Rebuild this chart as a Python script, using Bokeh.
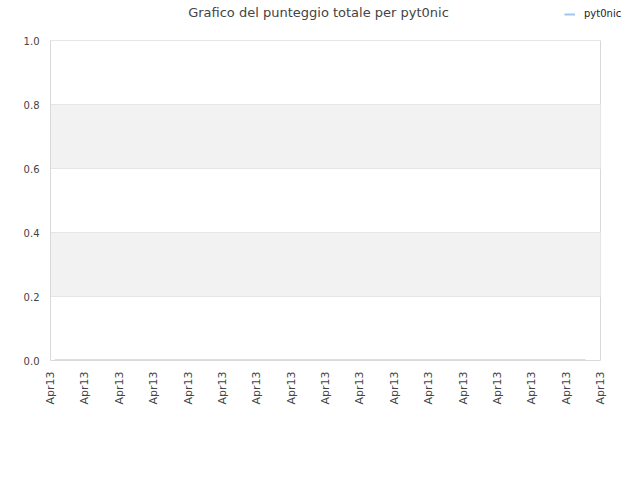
from bokeh.plotting import figure
from bokeh.models import FixedTicker, Legend, LegendItem, Range1d, Label
from bokeh.embed import file_html
from bokeh.resources import INLINE

# data
x_ticks = list(range(17))
tick_labels = ["Apr13"] * 17
y_ticks = [0, 0.2, 0.4, 0.6, 0.8, 1.0]
y_labels = ["0.0", "0.2", "0.4", "0.6", "0.8", "1.0"]
series_name = "pyt0nic"
series_x = [0.12, 2.0, 4.0, 6.0, 8.0, 10.0, 12.0, 14.0, 15.56]
series_y = [0, 0, 0, 0, 0, 0, 0, 0, 0]
title_text = "Grafico del punteggio totale per pyt0nic"

GREY = "#d9d9d9"
x_lo, x_hi = x_ticks[0], x_ticks[-1]
y_lo, y_hi = y_ticks[0], y_ticks[-1]

p = figure(width=632, height=472, output_backend="svg", toolbar_location=None,
           x_range=Range1d(0, 16.93), y_range=Range1d(0, 1.125),
           min_border_left=50, min_border_right=0, min_border_top=0, min_border_bottom=112)
p.title = None
p.outline_line_color = None
p.background_fill_color = "white"

p.xaxis.ticker = FixedTicker(ticks=x_ticks)
p.xaxis.major_label_overrides = {t: l for t, l in zip(x_ticks, tick_labels)}
p.xaxis.major_label_orientation = 1.5708
p.xaxis.bounds = (x_lo, x_hi)
p.yaxis.ticker = FixedTicker(ticks=y_ticks)
p.yaxis.major_label_overrides = {t: l for t, l in zip(y_ticks, y_labels)}
p.yaxis.bounds = (y_lo, y_hi)

for ax in (p.xaxis[0], p.yaxis[0]):
    ax.major_tick_line_color = None
    ax.minor_tick_line_color = None
    ax.axis_line_color = GREY
    ax.major_label_text_font = "DejaVu Sans"
    ax.major_label_text_color = "#444444"
p.xaxis.major_label_text_font_size = "11px"
p.yaxis.major_label_text_font_size = "10px"

# right border of the plot area as a single vertical grid line
p.xgrid.ticker = FixedTicker(ticks=[x_hi])
p.xgrid.grid_line_color = GREY
p.xgrid.cross_bounds = (y_lo, y_hi)

# horizontal grid and alternate bands (duplicate top tick keeps the band parity inside the plot)
p.ygrid.ticker = FixedTicker(ticks=y_ticks + [y_hi])
p.ygrid.grid_line_color = "#e6e6e6"
p.ygrid.band_fill_color = "#f2f2f2"
p.ygrid.band_fill_alpha = 1.0
p.ygrid.cross_bounds = (x_lo, x_hi)

r = p.line(series_x, series_y, line_color="#9fc6ea", line_width=2)

p.add_layout(Label(x=268, y=348, x_units="screen", y_units="screen", text=title_text,
                   text_align="center", text_baseline="middle",
                   text_font="DejaVu Sans", text_font_size="13px", text_color="#444444"))

legend = Legend(items=[LegendItem(label=series_name, renderers=[r])],
                location=(514, 341), orientation="vertical",
                label_text_font="DejaVu Sans", label_text_font_size="10px",
                label_text_color="#222222",
                glyph_width=11, glyph_height=10, label_height=10, label_standoff=9,
                padding=0, margin=0, spacing=0, border_line_color=None,
                background_fill_alpha=0)
p.add_layout(legend, "center")

open("out.html", "w").write(file_html(p, INLINE))
